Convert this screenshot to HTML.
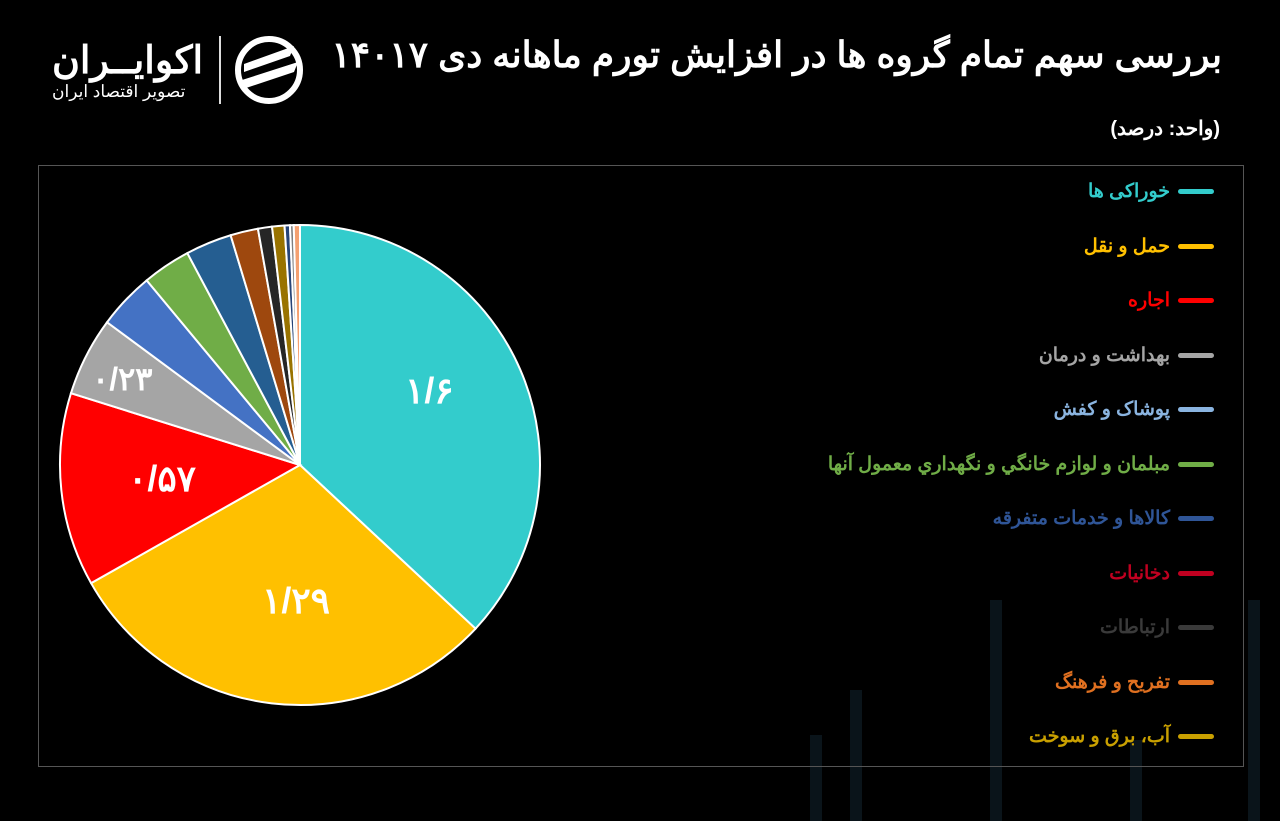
<!DOCTYPE html>
<html><head><meta charset="utf-8"><style>
body{margin:0;width:1280px;height:821px;background:#000;overflow:hidden;position:relative;font-family:"Liberation Sans","Noto Sans CJK SC",sans-serif;color:#fff}
.t{position:absolute;white-space:nowrap;direction:rtl}
.box{position:absolute;left:38px;top:165px;width:1204px;height:600px;border:1px solid #555}
.lg{position:absolute;right:66px;font-size:19px;font-weight:bold;direction:rtl;white-space:nowrap}
.lg span{display:inline-block;width:36px;height:5px;border-radius:3px;vertical-align:middle;margin-left:8px}
.bar{position:absolute;background:#0a141a}
</style></head><body>
<div class="bar" style="left:990px;top:600px;width:12px;height:221px"></div>
<div class="bar" style="left:850px;top:690px;width:12px;height:131px"></div>
<div class="bar" style="left:1248px;top:600px;width:12px;height:221px"></div>
<div class="bar" style="left:810px;top:735px;width:12px;height:86px"></div>
<div class="bar" style="left:1130px;top:740px;width:12px;height:81px"></div>
<div class="box"></div>
<div class="t" style="right:58px;top:34px;font-size:36px;font-weight:bold">بررسی سهم تمام گروه ها در افزایش تورم ماهانه دی ۱۴۰۱۷</div>
<div class="t" style="right:60px;top:116px;font-size:20px;font-weight:bold">(واحد: درصد)</div>
<div class="t" style="left:52px;top:38px;font-size:38px;font-weight:bold">اکوایــران</div>
<div class="t" style="left:52px;top:82px;font-size:17px">تصویر اقتصاد ایران</div>
<div style="position:absolute;left:219px;top:36px;width:2px;height:68px;background:#ddd"></div>
<svg style="position:absolute;left:232px;top:34px" width="74" height="72" viewBox="0 0 74 72">
<circle cx="37" cy="36" r="31" fill="none" stroke="#fff" stroke-width="6"/>
<path d="M12 30 L62 12 L58 22 L12 38Z M10 46 L66 28 L62 38 L14 54Z" fill="#fff"/>
</svg>
<svg id="pie" style="position:absolute;left:0;top:0" width="1280" height="821"></svg>
<div class="t" style="left:405px;top:370px;font-size:36px;font-weight:bold;direction:ltr">۱/۶</div>
<div class="t" style="left:262px;top:580px;font-size:36px;font-weight:bold;direction:ltr">۱/۲۹</div>
<div class="t" style="left:128px;top:458px;font-size:36px;font-weight:bold;direction:ltr">۰/۵۷</div>
<div class="t" style="left:92px;top:360px;font-size:32px;font-weight:bold;direction:ltr">۰/۲۳</div>
<div class="lg" style="top:180px;color:#33cccc"><span style="background:#33cccc"></span>خوراکی ها</div>
<div class="lg" style="top:235px;color:#ffc000"><span style="background:#ffc000"></span>حمل و نقل</div>
<div class="lg" style="top:289px;color:#ff0000"><span style="background:#ff0000"></span>اجاره</div>
<div class="lg" style="top:344px;color:#a5a5a5"><span style="background:#a5a5a5"></span>بهداشت و درمان</div>
<div class="lg" style="top:398px;color:#8ab4e0"><span style="background:#8ab4e0"></span>پوشاک و کفش</div>
<div class="lg" style="top:453px;color:#70ad47"><span style="background:#70ad47"></span>مبلمان و لوازم خانگي و نگهداري معمول آنها</div>
<div class="lg" style="top:507px;color:#2f5597"><span style="background:#2f5597"></span>کالاها و خدمات متفرقه</div>
<div class="lg" style="top:562px;color:#c00020"><span style="background:#c00020"></span>دخانیات</div>
<div class="lg" style="top:616px;color:#3a3a3a"><span style="background:#3a3a3a"></span>ارتباطات</div>
<div class="lg" style="top:671px;color:#e07020"><span style="background:#e07020"></span>تفریح و فرهنگ</div>
<div class="lg" style="top:725px;color:#c9a000"><span style="background:#c9a000"></span>آب، برق و سوخت</div>
<script>
var cx=300,cy=465,r=240;
var s=[[0,133,"#33cccc"],[133,240.5,"#ffc000"],[240.5,287.4,"#ff0000"],[287.4,306.5,"#a5a5a5"],[306.5,320.3,"#4472c4"],[320.3,332,"#70ad47"],[332,343.2,"#255e91"],[343.2,349.9,"#9e480e"],[349.9,353.3,"#262626"],[353.3,356.3,"#997300"],[356.3,357.6,"#264478"],[357.6,358.5,"#7f7f7f"],[358.5,360,"#f4a070"]];
function p(a){a=a*Math.PI/180;return [cx+r*Math.sin(a),cy-r*Math.cos(a)];}
var h="";
s.forEach(function(d){var a=p(d[0]),b=p(d[1]);var l=d[1]-d[0]>180?1:0;
h+='<path d="M'+cx+' '+cy+' L'+a[0]+' '+a[1]+' A'+r+' '+r+' 0 '+l+' 1 '+b[0]+' '+b[1]+'Z" fill="'+d[2]+'" stroke="#fff" stroke-width="2"/>';});
document.getElementById("pie").innerHTML=h;
</script>
</body></html>
